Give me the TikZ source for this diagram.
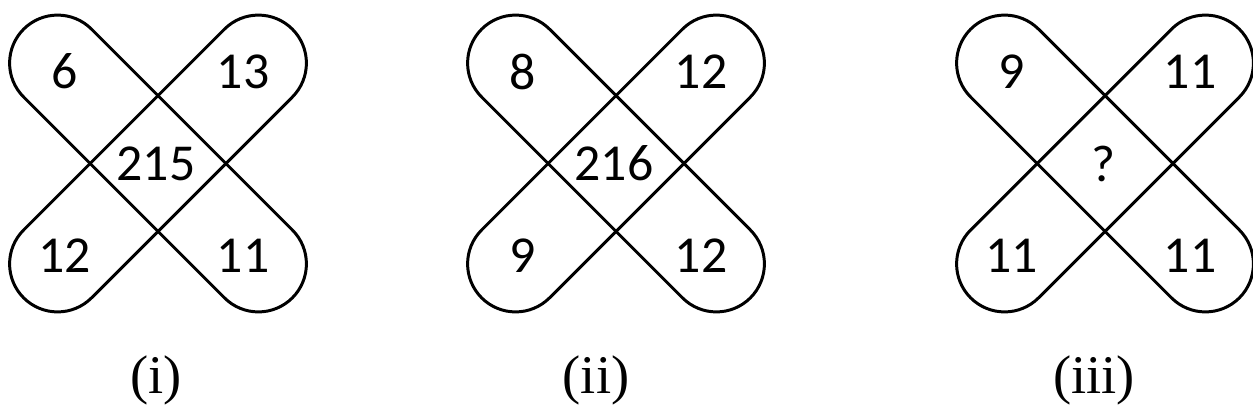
\documentclass[tikz,border=0pt]{standalone}
\usepackage{fontspec}
\setmainfont{Liberation Serif}
\newfontfamily\numfont{Carlito}
\usetikzlibrary{shapes.misc}

\begin{document}
\begin{tikzpicture}[line width=1.7pt,line cap=round,
  band/.style={draw,rounded rectangle,minimum width=7.6cm,minimum height=1.92cm,inner sep=0pt},
  num/.style={font=\numfont\fontsize{29.5}{31}\selectfont,inner sep=0pt},
  tag/.style={font=\fontsize{31}{33}\selectfont,inner sep=0pt}]
  \useasboundingbox (0,0) rectangle (25.06,8.36);
  % each figure: two crossed bands, four corner numbers and one in the middle
  \foreach \x/\a/\b/\m/\c/\d/\lx/\lab/\k in {3.16/6/13/215/12/11/3.12/(i)/i,
      12.32/8/12/216/9/12/11.92/(ii)/ii,
      22.10/9/11/?/11/11/21.88/(iii)/iii} {
    \coordinate (c\k) at (\x,5.09);
    \node[band,rotate=-45] (nw\k) at (c\k) {};
    \node[band,rotate=45] (ne\k) at (c\k) {};
    \node[num] (tl\k) at ([shift={(-1.86,1.84)}]c\k) {\a};
    \node[num] (tr\k) at ([shift={(1.70,1.84)}]c\k) {\b};
    \node[num] (mid\k) at ([shift={(-0.04,0)}]c\k) {\m};
    \node[num] (bl\k) at ([shift={(-1.87,-1.84)}]c\k) {\c};
    \node[num] (br\k) at ([shift={(1.70,-1.84)}]c\k) {\d};
    \node[tag] (lab\k) at (\lx,0.76) {\lab};
  }
\end{tikzpicture}
\end{document}
